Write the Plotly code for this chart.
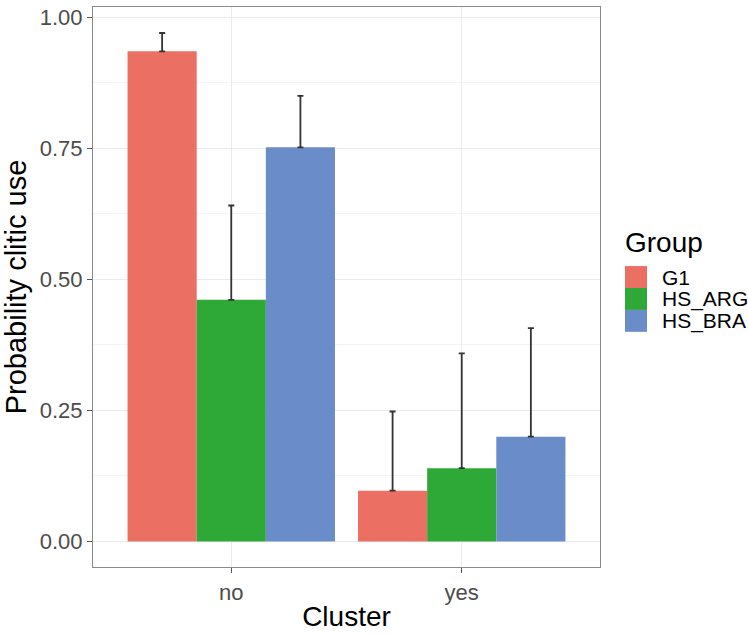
import plotly.graph_objects as go

clusters = ["no", "yes"]
groups = ["G1", "HS_ARG", "HS_BRA"]
colors = ["#EC6F64", "#2EA836", "#6A8DC9"]
prob = {
    "G1": [0.935, 0.097],
    "HS_ARG": [0.461, 0.140],
    "HS_BRA": [0.752, 0.200],
}
upper = {
    "G1": [0.970, 0.248],
    "HS_ARG": [0.641, 0.359],
    "HS_BRA": [0.850, 0.407],
}

W, H = 748, 635
ML, MR, MT, MB = 93, 148, 5, 68
PW, PH = W - ML - MR, H - MT - MB


def px(x):
    return (x - ML) / PW


def py(y):
    return (H - MB - y) / PH


fig = go.Figure()
for g, c in zip(groups, colors):
    fig.add_trace(go.Bar(
        name=g, x=clusters, y=prob[g], showlegend=False,
        marker=dict(color=c, line=dict(width=0)),
        error_y=dict(type="data", symmetric=False,
                     array=[u - v for u, v in zip(upper[g], prob[g])],
                     arrayminus=[0, 0],
                     color="#333333", thickness=1.8, width=3),
    ))

font = "Liberation Sans, Arial, sans-serif"

# custom legend (large square keys like ggplot)
shapes = []
annotations = [dict(
    text="Group", xref="paper", yref="paper", x=px(623), y=py(241),
    xanchor="left", yanchor="middle", showarrow=False,
    font=dict(size=28, color="black", family=font),
)]
key_top = 265
key = 22
for i, (g, c) in enumerate(zip(groups, colors)):
    t = key_top + i * key
    shapes.append(dict(
        type="rect", xref="paper", yref="paper",
        x0=px(625), x1=px(625 + key), y0=py(t + key), y1=py(t),
        fillcolor=c, line=dict(width=0), layer="above",
    ))
    annotations.append(dict(
        text=g, xref="paper", yref="paper", x=px(660), y=py(t + key / 2),
        xanchor="left", yanchor="middle", showarrow=False,
        font=dict(size=21, color="black", family=font),
    ))

fig.update_layout(
    width=W, height=H,
    barmode="group", bargap=0.1, bargroupgap=0,
    plot_bgcolor="white", paper_bgcolor="white",
    margin=dict(l=ML, r=MR, t=MT, b=MB),
    font=dict(family=font, color="#4D4D4D"),
    showlegend=False,
    shapes=shapes,
    annotations=annotations,
    xaxis=dict(
        range=[-0.6, 1.6],
        title=dict(text="Cluster", font=dict(size=28, color="black"), standoff=2),
        tickfont=dict(size=22, color="#4D4D4D"),
        showgrid=True, gridcolor="#EBEBEB", gridwidth=1,
        ticks="outside", ticklen=5, tickcolor="#555555",
        showline=True, linecolor="#8A8A8A", mirror=True, linewidth=1.2,
        zeroline=False,
    ),
    yaxis=dict(
        range=[-0.0486, 1.0196],
        tickvals=[0, 0.25, 0.5, 0.75, 1.0],
        ticktext=["0.00", "0.25", "0.50", "0.75", "1.00"],
        title=dict(text="Probability clitic use", font=dict(size=29, color="black"), standoff=6),
        tickfont=dict(size=22, color="#4D4D4D"),
        showgrid=True, gridcolor="#EBEBEB", gridwidth=1,
        minor=dict(tickvals=[0.125, 0.375, 0.625, 0.875], showgrid=True,
                   gridcolor="#F4F4F4", gridwidth=0.6),
        ticks="outside", ticklen=5, tickcolor="#555555",
        showline=True, linecolor="#8A8A8A", mirror=True, linewidth=1.2,
        zeroline=False,
    ),
)

fig.write_html("out.html", config={"displayModeBar": False},
               post_script="document.body.style.margin='0px';")
